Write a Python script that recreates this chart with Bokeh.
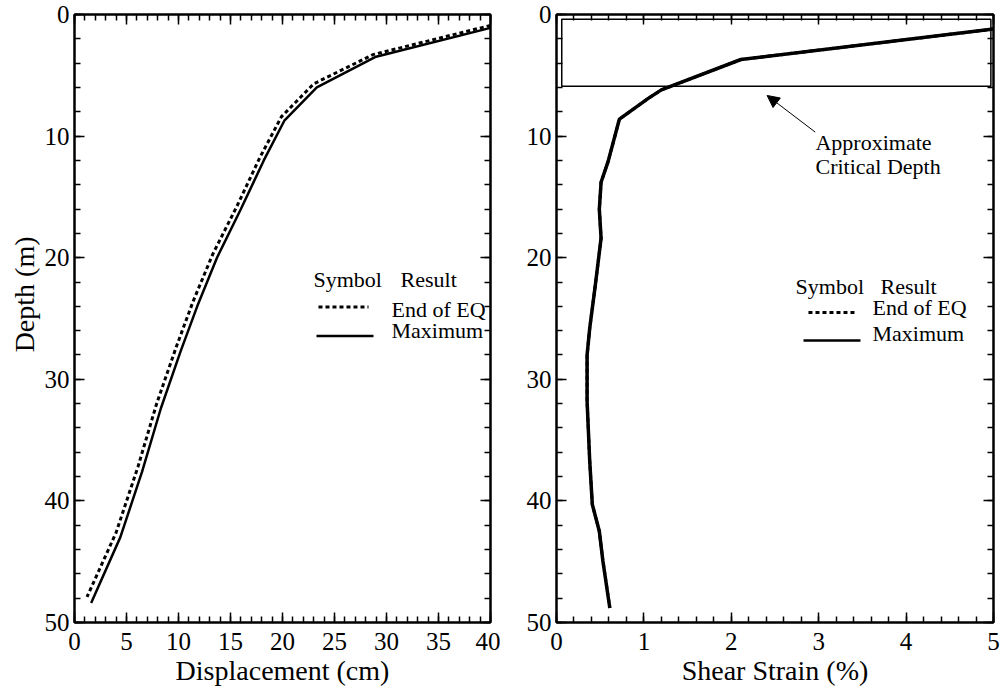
from bokeh.plotting import figure
from bokeh.layouts import row
from bokeh.models import (Range1d, LinearAxis, SingleIntervalTicker, Arrow, NormalHead,
                          CustomLabelingPolicy, Title)
from bokeh.core.properties import value
from bokeh.embed import file_html
from bokeh.resources import INLINE

FONT = "Liberation Serif"

# ---- data (left panel: displacement profile) ----
disp_end = [40.0, 28.7, 23.0, 19.9, 17.8, 15.6, 13.3, 11.4, 9.8, 7.9, 6.1, 4.0, 1.2]
depth_end = [0.9, 3.3, 5.7, 8.4, 11.8, 15.8, 19.7, 23.6, 27.3, 32.0, 37.2, 42.6, 47.9]
disp_max = [40.0, 28.9, 23.3, 20.2, 18.2, 16.0, 13.7, 11.8, 10.2, 8.3, 6.5, 4.4, 1.6]
depth_max = [1.1, 3.5, 6.0, 8.7, 12.0, 16.0, 20.0, 24.0, 27.7, 32.4, 37.6, 43.0, 48.4]

# ---- data (right panel: shear strain profile) ----
strain_depth = [1.2, 3.7, 6.2, 6.9, 8.6, 12.1, 13.8, 16.0, 18.4, 22.5, 25.8, 28.0,
                31.8, 36.7, 40.3, 42.5, 44.9, 48.8]
strain_end = [5.0, 2.11, 1.20, 1.05, 0.72, 0.59, 0.51, 0.49, 0.51, 0.44, 0.38, 0.35,
              0.35, 0.38, 0.41, 0.49, 0.53, 0.61]
strain_max = [5.0, 2.11, 1.20, 1.05, 0.72, 0.59, 0.51, 0.49, 0.51, 0.44, 0.38, 0.35,
              0.35, 0.38, 0.41, 0.49, 0.53, 0.61]
critical_depth = 5.9

legend_header = ["Symbol", "Result"]
legend_labels = ["End of EQ", "Maximum"]
annotation_lines = ["Approximate", "Critical Depth"]
y_title = "Depth (m)"

HIDE = "return new Set()"


def style_axes(p, xint, yint, xlabel):
    p.outline_line_color = "black"
    p.outline_line_width = 2
    p.grid.visible = False
    p.background_fill_color = "white"
    p.border_fill_color = "white"
    xb = p.xaxis[0]
    yl = p.yaxis[0]
    xb.ticker = SingleIntervalTicker(interval=xint, num_minor_ticks=5)
    yl.ticker = SingleIntervalTicker(interval=yint, num_minor_ticks=5)
    xt = LinearAxis(ticker=SingleIntervalTicker(interval=xint, num_minor_ticks=5),
                    major_label_policy=CustomLabelingPolicy(code=HIDE))
    yr = LinearAxis(ticker=SingleIntervalTicker(interval=yint, num_minor_ticks=5),
                    major_label_policy=CustomLabelingPolicy(code=HIDE))
    p.add_layout(xt, "above")
    p.add_layout(yr, "right")
    for ax in (xb, yl, xt, yr):
        ax.axis_line_color = "black"
        ax.axis_line_width = 2
        ax.major_tick_in = 10
        ax.major_tick_out = 0
        ax.minor_tick_in = 6
        ax.minor_tick_out = 0
        ax.major_tick_line_width = 1.5
        ax.minor_tick_line_width = 1.5
        ax.major_tick_line_color = "black"
        ax.minor_tick_line_color = "black"
        ax.major_label_text_font = FONT
        ax.major_label_text_font_size = "25px"
        ax.major_label_text_color = "black"
        ax.axis_label_text_font = FONT
        ax.axis_label_text_font_size = "28px"
        ax.axis_label_text_font_style = "normal"
        ax.axis_label_text_color = "black"
    for ax in (xt, yr):
        ax.major_label_text_font_size = "1px"
        ax.major_label_standoff = 0
    xb.major_label_standoff = 10
    yl.major_label_standoff = 5
    xb.axis_label = xlabel
    xb.axis_label_standoff = 2


# ---------------- left panel ----------------
p1 = figure(width=500, height=699, x_range=Range1d(0, 40), y_range=Range1d(50, 0),
            output_backend="svg", toolbar_location=None,
            min_border_left=74, min_border_right=10, min_border_top=14, min_border_bottom=74)
style_axes(p1, 5, 10, "Displacement (cm)")
p1.add_layout(Title(text=y_title, align="right", offset=222, standoff=4,
                    text_font=FONT, text_font_size="28px", text_font_style="normal",
                    text_color="black"), "left")
p1.line(disp_end, depth_end, line_color="black", line_width=3, line_dash="4 3")
p1.line(disp_max, depth_max, line_color="black", line_width=2.5)

p1.text(x=[22.98, 31.35], y=[21.77, 21.77], text=legend_header,
        text_font=value(FONT), text_font_size="22px", text_baseline="alphabetic", text_align="left")
p1.text(x=[30.48, 30.48], y=[24.22, 26.02], text=legend_labels,
        text_font=value(FONT), text_font_size="22px", text_baseline="alphabetic", text_align="left")
p1.segment(x0=[23.46], y0=[24.06], x1=[28.27], y1=[24.06], line_color="black",
           line_width=3, line_dash="4 3")
p1.segment(x0=[23.27], y0=[26.43], x1=[28.75], y1=[26.43], line_color="black", line_width=2.5)

# ---------------- right panel ----------------
p2 = figure(width=501, height=699, x_range=Range1d(0, 5), y_range=Range1d(50, 0),
            output_backend="svg", toolbar_location=None,
            min_border_left=56, min_border_right=8, min_border_top=12, min_border_bottom=77)
style_axes(p2, 1, 10, "Shear Strain (%)")
p2.quad(left=[0.06], right=[4.97], top=[0.4], bottom=[critical_depth],
        fill_color=None, line_color="black", line_width=1.5)
p2.line(strain_end, strain_depth, line_color="black", line_width=3, line_dash="4 3")
p2.line(strain_max, strain_depth, line_color="black", line_width=3.5)

p2.add_layout(Arrow(end=NormalHead(size=12, fill_color="black", line_color="black"),
                    x_start=2.96, y_start=9.67, x_end=2.41, y_end=6.66,
                    line_color="black", line_width=1))
p2.text(x=[2.963, 2.963], y=[10.49, 12.54], text=annotation_lines,
        text_font=value(FONT), text_font_size="22px", text_baseline="alphabetic", text_align="left")

p2.text(x=[2.735, 3.707], y=[22.38, 22.38], text=legend_header,
        text_font=value(FONT), text_font_size="22px", text_baseline="alphabetic", text_align="left")
p2.text(x=[3.616, 3.616], y=[24.1, 26.23], text=legend_labels,
        text_font=value(FONT), text_font_size="22px", text_baseline="alphabetic", text_align="left")
p2.segment(x0=[2.883], y0=[24.5], x1=[3.444], y1=[24.5], line_color="black",
           line_width=3, line_dash="4 3")
p2.segment(x0=[2.826], y0=[26.8], x1=[3.478], y1=[26.8], line_color="black", line_width=2.5)

layout = row(p1, p2)
open("out.html", "w").write(file_html(layout, INLINE))
